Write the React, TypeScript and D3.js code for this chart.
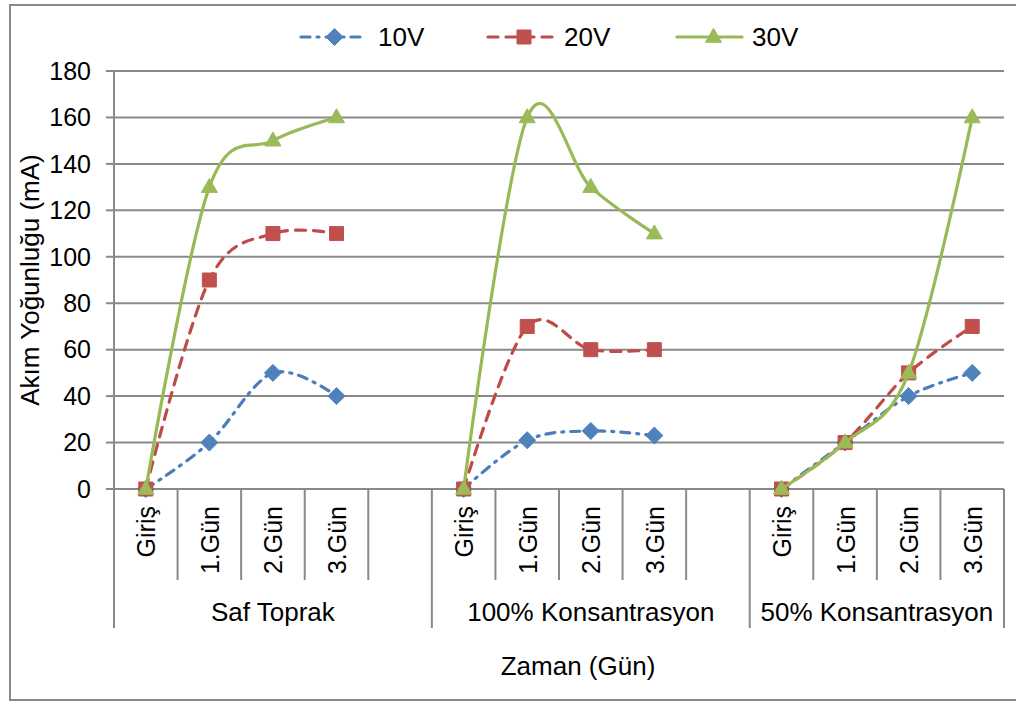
import React from "react";
import * as d3 from "d3";

// Groups along the category axis and the measurement days within each group
const groups = ["Saf Toprak", "100% Konsantrasyon", "50% Konsantrasyon"];
const days = ["Giriş", "1.Gün", "2.Gün", "3.Gün"];

// Current (mA) per group, per day
const v10 = [
  [0, 20, 50, 40],
  [0, 21, 25, 23],
  [0, 20, 40, 50],
];
const v20 = [
  [0, 90, 110, 110],
  [0, 70, 60, 60],
  [0, 20, 50, 70],
];
const v30 = [
  [0, 130, 150, 160],
  [0, 160, 130, 110],
  [0, 20, 50, 160],
];

const yTicks = [0, 20, 40, 60, 80, 100, 120, 140, 160, 180];

const seriesNames = ["10V", "20V", "30V"];
const seriesValues = [v10, v20, v30];

const W = 1016;
const H = 704;
const plot = { left: 114, right: 1004, top: 71, bottom: 489 };
const FONT = "Arial, 'Liberation Sans', sans-serif";
const GRID = "#898989";

const styles = [
  { line: "#4A7EBB", fill: "#4F81BD", dash: "9,7,2,7", marker: "diamond" },
  { line: "#BE4B48", fill: "#C0504D", dash: "10,8", marker: "square" },
  { line: "#98B954", fill: "#9BBB59", dash: "", marker: "triangle" },
];

// slot index on the category axis: each group takes 5 slots (4 days + a gap), last group 4
const slotOf = (g: number, i: number) => g * 5 + i;
const nSlots = (groups.length - 1) * 5 + days.length;

function markerPath(kind: string, cx: number, cy: number) {
  if (kind === "diamond") {
    const r = 8.5;
    return `M${cx},${cy - r}L${cx + r},${cy}L${cx},${cy + r}L${cx - r},${cy}Z`;
  }
  if (kind === "square") {
    const r = 7;
    return `M${cx - r},${cy - r}h${2 * r}v${2 * r}h${-2 * r}Z`;
  }
  const h = 14;
  const w = 16;
  return `M${cx},${cy - h * 0.62}L${cx + w / 2},${cy + h * 0.38}L${cx - w / 2},${cy + h * 0.38}Z`;
}

export default function App() {
  const x = d3
    .scaleBand<number>()
    .domain(d3.range(nSlots))
    .range([plot.left, plot.right])
    .padding(0);
  const bw = x.bandwidth();
  const cx = (s: number) => (x(s) as number) + bw / 2;
  const y = d3.scaleLinear().domain([0, 180]).range([plot.bottom, plot.top]);

  const line = d3
    .line<[number, number]>()
    .x((d) => d[0])
    .y((d) => d[1])
    .curve(d3.curveCatmullRom.alpha(0));

  // category boundaries
  const catTicks: number[] = [];
  const groupTicks: number[] = [];
  for (let s = 0; s <= nSlots; s++) {
    const xs = s < nSlots ? (x(s) as number) : plot.right;
    if (s % 5 === 0 || s === nSlots) groupTicks.push(xs);
    else catTicks.push(xs);
  }

  const legendItems = [
    { x0: 301, x1: 360, tx: 378 },
    { x0: 488, x1: 552, tx: 564 },
    { x0: 677, x1: 742, tx: 752 },
  ];

  return (
    <svg
      width={W}
      height={H}
      style={{ position: "absolute", left: 0, top: 0, background: "#fff" }}
      fontFamily={FONT}
    >
      {/* chart frame */}
      <rect x={10} y={5} width={1020} height={695} fill="#fff" stroke={GRID} strokeWidth={2} />

      {/* horizontal gridlines and y ticks */}
      {yTicks.map((t) => (
        <g key={t}>
          <line x1={plot.left} x2={plot.right} y1={y(t)} y2={y(t)} stroke={GRID} strokeWidth={2} />
          <line x1={106} x2={plot.left} y1={y(t)} y2={y(t)} stroke={GRID} strokeWidth={2} />
          <text x={91} y={y(t)} dy="0.35em" textAnchor="end" fontSize={25} fill="#000">
            {t}
          </text>
        </g>
      ))}

      {/* value axis line */}
      <line x1={plot.left} x2={plot.left} y1={plot.top} y2={plot.bottom} stroke={GRID} strokeWidth={2} />

      {/* category axis tick marks */}
      {catTicks.map((xs, i) => (
        <line key={"c" + i} x1={xs} x2={xs} y1={plot.bottom} y2={580} stroke={GRID} strokeWidth={2} />
      ))}
      {groupTicks.map((xs, i) => (
        <line key={"g" + i} x1={xs} x2={xs} y1={plot.bottom} y2={628} stroke={GRID} strokeWidth={2} />
      ))}

      {/* day labels */}
      {groups.map((g, gi) =>
        days.map((d, di) => {
          const px = cx(slotOf(gi, di)) + 9.5;
          return (
            <text
              key={g + d}
              transform={`translate(${px},506) rotate(-90)`}
              textAnchor="end"
              fontSize={25}
              fill="#000"
            >
              {d}
            </text>
          );
        })
      )}

      {/* group labels */}
      {groups.map((g, gi) => {
        const a = x(slotOf(gi, 0)) as number;
        const b = gi < groups.length - 1 ? (x(slotOf(gi + 1, 0)) as number) : plot.right;
        return (
          <text key={g} x={(a + b) / 2} y={621} textAnchor="middle" fontSize={26} fill="#000">
            {g}
          </text>
        );
      })}

      {/* axis titles */}
      <text x={578} y={675} textAnchor="middle" fontSize={26} fill="#000">
        Zaman (Gün)
      </text>
      <text
        transform={`translate(39,${(plot.top + plot.bottom) / 2}) rotate(-90)`}
        textAnchor="middle"
        fontSize={26}
        fill="#000"
      >
        Akım Yoğunluğu (mA)
      </text>

      {/* series */}
      {seriesValues.map((vals, si) => {
        const st = styles[si];
        return (
          <g key={seriesNames[si]}>
            {vals.map((row, gi) => {
              const pts = row.map((v, di) => [cx(slotOf(gi, di)), y(v)] as [number, number]);
              return (
                <path
                  key={"l" + gi}
                  d={line(pts) || ""}
                  fill="none"
                  stroke={st.line}
                  strokeWidth={3.2}
                  strokeDasharray={st.dash || undefined}
                  strokeLinecap="round"
                />
              );
            })}
            {vals.map((row, gi) =>
              row.map((v, di) => (
                <path
                  key={"m" + gi + "-" + di}
                  d={markerPath(st.marker, cx(slotOf(gi, di)), y(v))}
                  fill={st.fill}
                  stroke={st.fill}
                  strokeWidth={1}
                />
              ))
            )}
          </g>
        );
      })}

      {/* legend */}
      {seriesNames.map((n, si) => {
        const st = styles[si];
        const L = legendItems[si];
        const ly = 37;
        return (
          <g key={"lg" + n}>
            <line
              x1={L.x0}
              x2={L.x1}
              y1={ly}
              y2={ly}
              stroke={st.line}
              strokeWidth={3.2}
              strokeDasharray={st.dash || undefined}
              strokeLinecap="round"
            />
            <path d={markerPath(st.marker, (L.x0 + L.x1) / 2 + 4, ly)} fill={st.fill} stroke={st.fill} />
            <text x={L.tx} y={ly} dy="0.35em" fontSize={26} fill="#000">
              {n}
            </text>
          </g>
        );
      })}
    </svg>
  );
}
